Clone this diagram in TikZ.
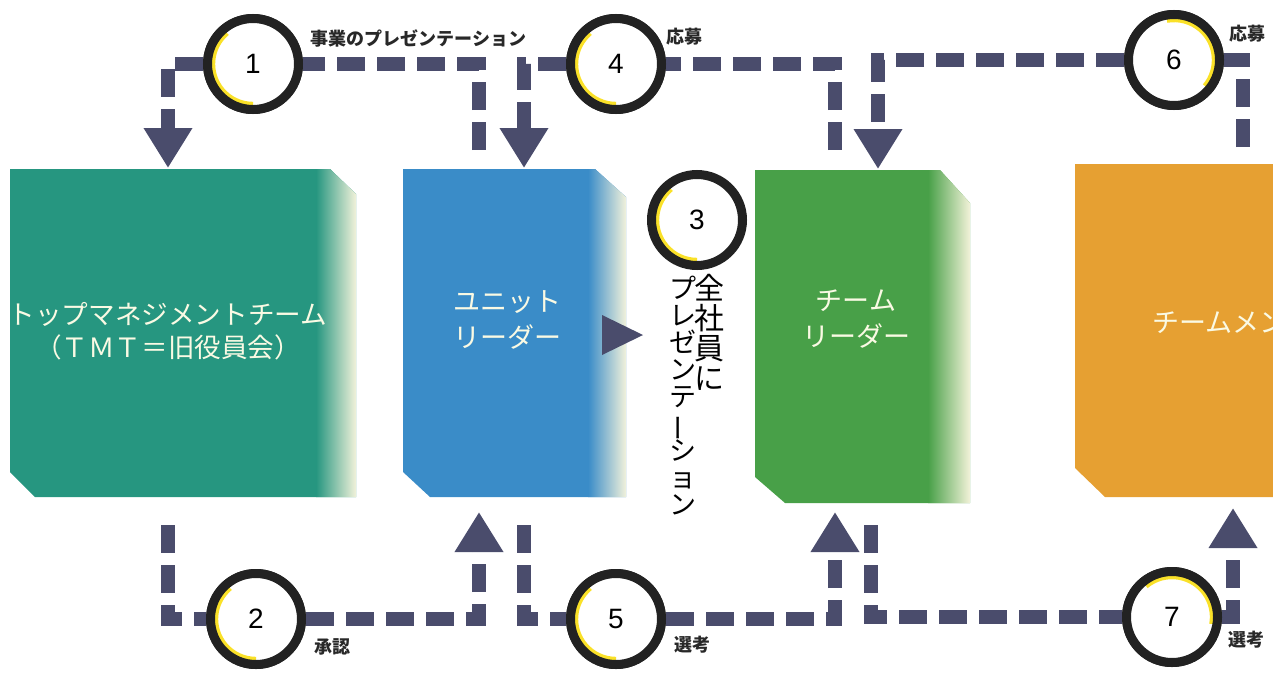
\documentclass[tikz,border=0pt]{standalone}
\usepackage{fontspec}
\setmainfont{Liberation Sans}
\newfontfamily\cjk{Noto Sans CJK JP}
\usetikzlibrary{arrows.meta,calc}
\definecolor{tealC}{RGB}{38,150,128}
\definecolor{blueC}{RGB}{58,140,200}
\definecolor{greenC}{RGB}{72,160,72}
\definecolor{orangeC}{RGB}{230,160,50}
\definecolor{lineC}{RGB}{74,76,108}
\definecolor{ringC}{RGB}{34,34,34}
\definecolor{creamC}{RGB}{246,244,220}
\definecolor{hiC}{RGB}{250,225,40}
\definecolor{boxtxtC}{RGB}{250,250,228}
\definecolor{lblC}{RGB}{40,40,40}
\newcommand\tatebar{\makebox[1em]{\rotatebox[origin=c]{90}{ー}}}
\newcommand\tightlines{\lineskiplimit=-20pt\relax}
\begin{document}
\begin{tikzpicture}[x=0.5pt,y=-0.5pt,
  flow/.style={draw=lineC, line width=7pt, dash pattern=on 14pt off 6pt},
  flowarrow/.style={flow, -{Triangle[width=23pt,length=20pt]}},
  stepcircle/.style={circle, draw=ringC, line width=4.5pt, fill=white,
    minimum size=45.5pt, inner sep=0pt, font=\fontsize{14}{14}\selectfont,
    path picture={\draw[hiC, line width=2.2pt] (path picture bounding box.center)
      ++(#1:20pt) arc[start angle=#1, end angle=#1+140, radius=20pt];}},
  stepcircle/.default=130,
  boxtext/.style={align=center, text=boxtxtC, inner sep=0pt,
    font=\cjk\fontsize{13.3}{16.5}\selectfont},
  steplabel/.style={anchor=west, inner sep=0pt, text=lblC,
    font=\cjk\bfseries\fontsize{9}{9}\selectfont},
  vtext/.style={anchor=north, align=center, inner sep=0pt, text=black}
]
\useasboundingbox (0,0) rectangle (1273,675);
\clip (0,0) rectangle (1273,675);

% ---- boxes ----
\fill[tealC] (10,169) -- (330,169) -- (356,194) -- (356,497) -- (35,497) -- (10,472) -- cycle;
\begin{scope}
  \clip (10,169) -- (330,169) -- (356,194) -- (356,497) -- (35,497) -- (10,472) -- cycle;
  \shade[left color=tealC, right color=creamC] (316,160) rectangle (357,505);
\end{scope}
\fill[blueC] (403,169) -- (595,169) -- (626,197) -- (626,497) -- (430,497) -- (403,472) -- cycle;
\begin{scope}
  \clip (403,169) -- (595,169) -- (626,197) -- (626,497) -- (430,497) -- (403,472) -- cycle;
  \shade[left color=blueC, right color=creamC] (588,160) rectangle (627,505);
\end{scope}
\fill[greenC] (755,170) -- (940,170) -- (970,203) -- (970,503) -- (785,503) -- (755,477) -- cycle;
\begin{scope}
  \clip (755,170) -- (940,170) -- (970,203) -- (970,503) -- (785,503) -- (755,477) -- cycle;
  \shade[left color=greenC, right color=creamC] (928,160) rectangle (971,510);
\end{scope}
\fill[orangeC] (1075,164) -- (1290,164) -- (1290,497) -- (1105,497) -- (1075,468) -- cycle;

\node[boxtext] (tmt) at (168,331) {トップマネジメントチーム\\（ＴＭＴ＝旧役員会）};
\node[boxtext, font=\cjk\fontsize{13.5}{18}\selectfont] (ul) at (507,320) {ユニット\\リーダー};
\node[boxtext, font=\cjk\fontsize{13.5}{18}\selectfont] (tl) at (856,319) {チーム\\リーダー};
\node[boxtext, anchor=west, font=\cjk\fontsize{13.5}{18}\selectfont] (tm) at (1152,322) {チームメンバー};

% ---- step 3 arrow and vertical text ----
\fill[lineC] (602,315) -- (643,335) -- (602,355) -- cycle;
\node[vtext, font=\cjk\fontsize{15}{15}\selectfont\tightlines] (v1) at (709,274) {全\\社\\員\\に};
\node[vtext, font=\cjk\fontsize{13.5}{13.5}\selectfont\tightlines] (v2) at (683,276) {プ\\レ\\ゼ\\ン\\テ\\\tatebar\\シ\\ョ\\ン};

% ---- connector end points ----
\coordinate (s1) at (479,150);  \coordinate (t1) at (168,168);
\coordinate (s2) at (168,525);  \coordinate (t2) at (479,512);
\coordinate (s4) at (835,150);  \coordinate (t4) at (524,168);
\coordinate (s5) at (524,525);  \coordinate (t5) at (835,512);
\coordinate (s6) at (1243,147); \coordinate (t6) at (878,169);
\coordinate (s7) at (871,525);  \coordinate (t7) at (1233,508);

% ---- circles (placed first for path computation) ----
\path (253,64) node[stepcircle] (c1) {1};
\path (256,619) node[stepcircle] (c2) {2};
\path (697,220) node[stepcircle] (c3) {3};
\path (616,64) node[stepcircle] (c4) {4};
\path (616,619) node[stepcircle] (c5) {5};
\path (1174,60) node[stepcircle=-40] (c6) {6};
\path (1172,617) node[stepcircle=-10] (c7) {7};

% ---- connectors ----
\draw[flow] (s1) |- (c1);
\draw[flowarrow] (c1) -| (t1);
\draw[flow] (s2) |- (c2);
\draw[flowarrow] (c2) -| (t2);
\draw[flow] (s4) |- (c4);
\draw[flowarrow] (c4) -| (t4);
\draw[flow] (s5) |- (c5);
\draw[flowarrow] (c5) -| (t5);
\draw[flow] (s6) |- (c6);
\draw[flowarrow] (c6) -| (t6);
\draw[flow] (s7) |- (c7);
\draw[flowarrow] (c7) -| (t7);

% redraw circles on top
\node[stepcircle] at (c1) {1};
\node[stepcircle] at (c2) {2};
\node[stepcircle] at (c4) {4};
\node[stepcircle] at (c5) {5};
\node[stepcircle=-40] at (c6) {6};
\node[stepcircle=-10] at (c7) {7};

% ---- step labels ----
\node[steplabel] (l1) at (310,38) {事業のプレゼンテーション};
\node[steplabel] (l4) at (666,37) {応募};
\node[steplabel] (l6) at (1229,34) {応募};
\node[steplabel] (l2) at (314,647) {承認};
\node[steplabel] (l5) at (674,645) {選考};
\node[steplabel] (l7) at (1228,640) {選考};
\end{tikzpicture}
\end{document}
